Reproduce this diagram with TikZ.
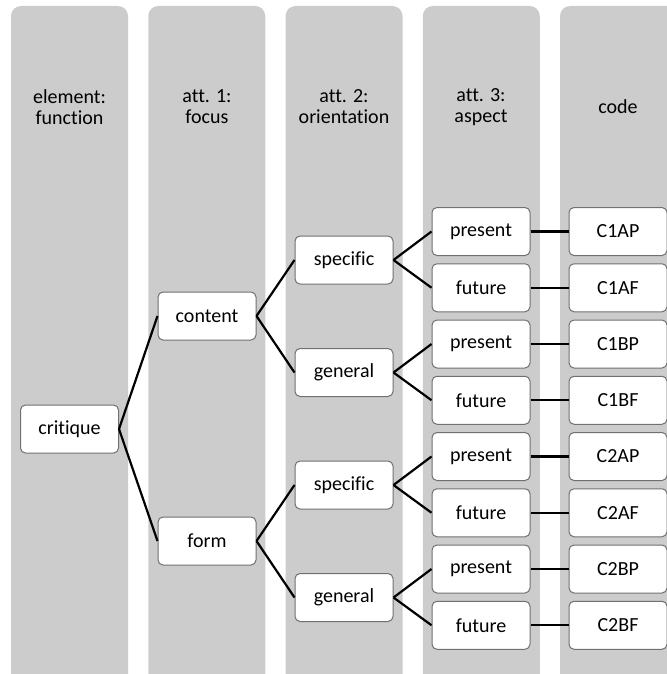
\documentclass[tikz,border=0pt]{standalone}
\usepackage{fontspec}
\setmainfont[Ligatures={NoCommon}]{Carlito}
\definecolor{colgray}{RGB}{204,204,204}
\definecolor{boxedge}{RGB}{112,112,112}
\tikzset{
  colbox/.style={fill=colgray, draw=none, rounded corners=10pt},
  item/.style={draw=boxedge, line width=1pt, fill=white, rounded corners=5pt,
    minimum width=98pt, minimum height=48pt, inner sep=0pt,
    font=\fontsize{20}{21}\selectfont},
  head/.style={align=center, font=\fontsize{20}{21}\selectfont, inner sep=0pt},
  link/.style={line width=2.2pt, black}
}
\begin{document}
\begin{tikzpicture}[x=1pt,y=-1pt]
\useasboundingbox (0,0) rectangle (666,674);
% columns
\foreach \i in {0,...,4} {
  \fill[colgray, rounded corners=10pt] ({11+137.25*\i},6) rectangle ({128+137.25*\i},684);
}
% headers
\node[head] (h1) at (69.5,107) {element:\\function};
\node[head] (h2) at (207,107) {att. 1:\\focus};
\node[head] (h3) at (344,107) {att. 2:\\orientation};
\node[head] (h4) at (481,107) {att. 3:\\aspect};
\node[head] (h5) at (618,107) {code};
% nodes
\node[item] (crit) at (69.5,429) {critique};
\node[item] (cont) at (207,316) {content};
\node[item] (form) at (207,541) {form};
\node[item] (s1) at (344,260) {specific};
\node[item] (g1) at (344,372.5) {general};
\node[item] (s2) at (344,485) {specific};
\node[item] (g2) at (344,597.5) {general};
\node[item] (p1) at (481,231.5) {present};
\node[item] (f1) at (481,287.75) {future};
\node[item] (p2) at (481,344) {present};
\node[item] (f2) at (481,400.25) {future};
\node[item] (p3) at (481,456.5) {present};
\node[item] (f3) at (481,512.75) {future};
\node[item] (p4) at (481,569) {present};
\node[item] (f4) at (481,625.25) {future};
\node[item] (c1) at (618,231.5) {C1AP};
\node[item] (c2) at (618,287.75) {C1AF};
\node[item] (c3) at (618,344) {C1BP};
\node[item] (c4) at (618,400.25) {C1BF};
\node[item] (c5) at (618,456.5) {C2AP};
\node[item] (c6) at (618,512.75) {C2AF};
\node[item] (c7) at (618,569) {C2BP};
\node[item] (c8) at (618,625.25) {C2BF};
% links
\draw[link] (crit.east) -- (cont.west);
\draw[link] (crit.east) -- (form.west);
\draw[link] (cont.east) -- (s1.west);
\draw[link] (cont.east) -- (g1.west);
\draw[link] (form.east) -- (s2.west);
\draw[link] (form.east) -- (g2.west);
\draw[link] (s1.east) -- (p1.west);
\draw[link] (s1.east) -- (f1.west);
\draw[link] (g1.east) -- (p2.west);
\draw[link] (g1.east) -- (f2.west);
\draw[link] (s2.east) -- (p3.west);
\draw[link] (s2.east) -- (f3.west);
\draw[link] (g2.east) -- (p4.west);
\draw[link] (g2.east) -- (f4.west);
\draw[link] (p1.east) -- (c1.west);
\draw[link] (f1.east) -- (c2.west);
\draw[link] (p2.east) -- (c3.west);
\draw[link] (f2.east) -- (c4.west);
\draw[link] (p3.east) -- (c5.west);
\draw[link] (f3.east) -- (c6.west);
\draw[link] (p4.east) -- (c7.west);
\draw[link] (f4.east) -- (c8.west);
\end{tikzpicture}
\end{document}
